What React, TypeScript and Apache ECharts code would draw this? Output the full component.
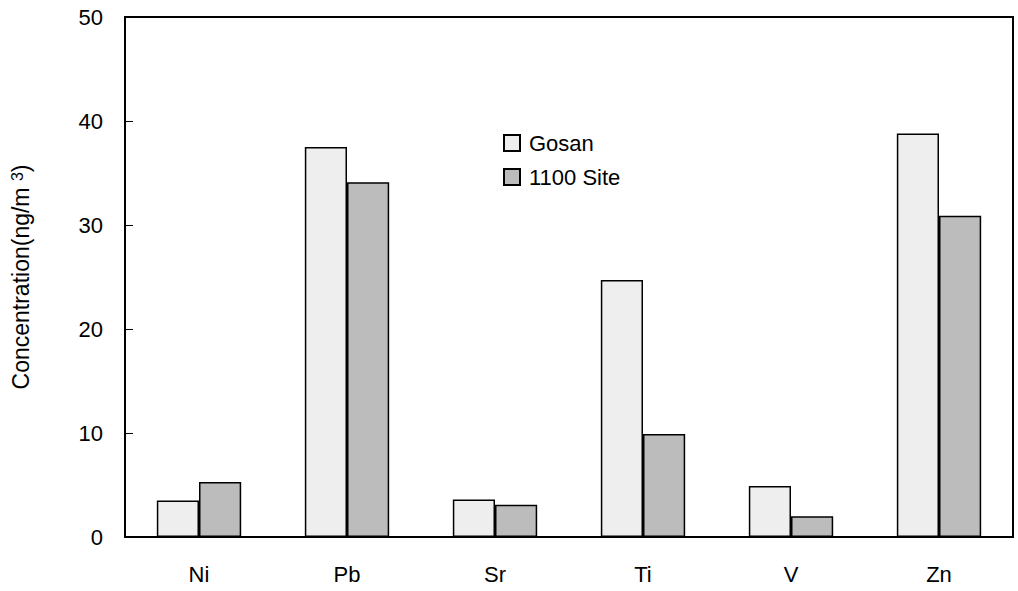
import React, { useEffect, useRef } from "react";
import * as echarts from "echarts";

const categories = ["Ni", "Pb", "Sr", "Ti", "V", "Zn"];
const gosan = [3.5, 37.5, 3.6, 24.7, 4.9, 38.8];
const site1100 = [5.3, 34.1, 3.1, 9.9, 2.0, 30.9];
const yTicks = { min: 0, max: 50, interval: 10 };

const FONT = "'Liberation Sans', Arial, sans-serif";

export default function App() {
  const ref = useRef<HTMLDivElement>(null);
  useEffect(() => {
    const chart = echarts.init(ref.current!, null, { renderer: "svg" });
    chart.setOption({
      animation: false,
      backgroundColor: "#fff",
      textStyle: { fontFamily: FONT, color: "#000" },
      grid: {
        left: 125,
        right: 5,
        top: 17,
        bottom: 54,
        show: true,
        borderColor: "#000",
        borderWidth: 2,
        backgroundColor: "transparent",
        containLabel: false,
        outerBoundsMode: "none",
      },
      legend: {
        orient: "vertical",
        left: 503,
        top: 132,
        padding: 0,
        icon: "rect",
        itemWidth: 16,
        itemHeight: 16,
        itemGap: 12,
        textStyle: { fontSize: 22, color: "#000", fontFamily: FONT, padding: [0, 0, 0, 4] },
        data: ["Gosan", "1100 Site"],
      },
      xAxis: {
        type: "category",
        data: categories,
        boundaryGap: true,
        axisLine: { lineStyle: { color: "#000", width: 2 } },
        axisTick: { inside: true, length: 8, lineStyle: { color: "#000", width: 1 } },
        axisLabel: { fontSize: 22, color: "#000", margin: 26, fontFamily: FONT },
        splitLine: { show: false },
      },
      yAxis: {
        type: "value",
        min: yTicks.min,
        max: yTicks.max,
        interval: yTicks.interval,
        name: "Concentration(ng/m {sup|3})",
        nameLocation: "middle",
        nameGap: 92,
        nameTextStyle: {
          fontSize: 23,
          color: "#000",
          fontFamily: FONT,
          rich: {
            sup: { fontSize: 16, color: "#000", fontFamily: FONT, verticalAlign: "top", padding: [0, 0, 8, 0] },
          },
        },
        axisLine: { show: true, lineStyle: { color: "#000", width: 2 } },
        axisTick: { show: true, inside: true, length: 8, lineStyle: { color: "#000", width: 1 } },
        axisLabel: { fontSize: 22, color: "#000", margin: 22, fontFamily: FONT },
        splitLine: { show: false },
      },
      series: [
        {
          name: "Gosan",
          type: "bar",
          data: gosan,
          barGap: "0%",
          barCategoryGap: "43%",
          itemStyle: { color: "#eeeeee", borderColor: "#000", borderWidth: 1.5 },
        },
        {
          name: "1100 Site",
          type: "bar",
          data: site1100,
          barGap: "0%",
          barCategoryGap: "43%",
          itemStyle: { color: "#bcbcbc", borderColor: "#000", borderWidth: 1.5 },
        },
      ],
    });
    return () => chart.dispose();
  }, []);
  return (
    <div
      ref={ref}
      style={{ position: "fixed", left: 0, top: 0, width: 1018, height: 591 }}
    />
  );
}
